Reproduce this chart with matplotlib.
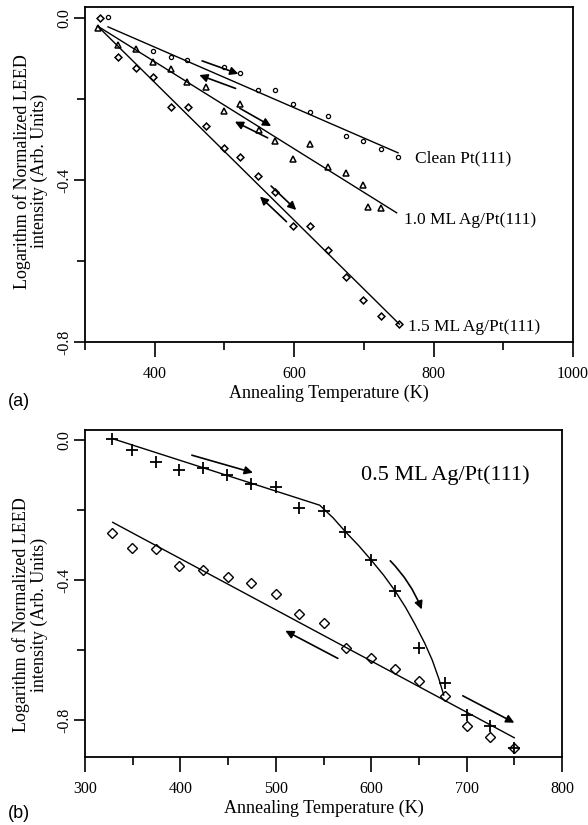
import numpy as np
import matplotlib.pyplot as plt

plt.rcParams['font.family'] = ['Liberation Serif', 'DejaVu Serif']

# ---- panel (a) data ----
clean_T = [333, 398, 423, 447, 499, 523, 548, 573, 599, 623, 649, 674, 699, 724, 749]
clean_v = [0.003, -0.081, -0.096, -0.105, -0.121, -0.135, -0.178, -0.178, -0.213,
           -0.231, -0.242, -0.291, -0.305, -0.323, -0.344]

ml10_T = [318, 348, 373, 398, 423, 447, 473, 499, 523, 549, 573, 599, 623, 649, 674,
          699, 706, 724]
ml10_v = [-0.025, -0.068, -0.077, -0.108, -0.126, -0.157, -0.171, -0.230, -0.212,
          -0.277, -0.305, -0.349, -0.312, -0.367, -0.383, -0.412, -0.467, -0.470]

ml15_T = [322, 348, 373, 398, 423, 448, 473, 499, 523, 548, 573, 599, 623, 649, 674,
          699, 725, 751]
ml15_v = [0.0, -0.097, -0.123, -0.147, -0.219, -0.219, -0.267, -0.320, -0.344, -0.390,
          -0.429, -0.513, -0.513, -0.573, -0.639, -0.696, -0.736, -0.756]

fit_clean_T, fit_clean_v = [333, 749], [-0.022, -0.333]
fit_10_T, fit_10_v = [318, 747], [-0.020, -0.481]
fit_15_T, fit_15_v = [318, 751], [-0.020, -0.756]

# arrows: (tail T, tail v, head T, head v)
arrows_a = [
    (468, -0.106, 520, -0.138),
    (516, -0.174, 464, -0.141),
    (522, -0.223, 567, -0.267),
    (562, -0.296, 515, -0.256),
    (567, -0.415, 603, -0.474),
    (589, -0.503, 551, -0.441),
]

labels_a = ["Clean Pt(111)", "1.0 ML Ag/Pt(111)", "1.5 ML Ag/Pt(111)"]
labels_a_T = [774, 757, 764]
labels_a_v = [-0.346, -0.499, -0.762]

# ---- panel (b) data ----
plus_T = [328, 349, 374, 399, 424, 449, 474, 500, 524, 550, 573, 600, 625, 650, 677,
          700, 725, 750]
plus_v = [0.002, -0.027, -0.062, -0.086, -0.081, -0.100, -0.124, -0.133, -0.195,
          -0.202, -0.264, -0.343, -0.431, -0.593, -0.695, -0.786, -0.816, -0.879]

dia_T = [328, 349, 374, 399, 424, 450, 474, 500, 524, 550, 574, 600, 625, 650, 677,
         700, 725, 750]
dia_v = [-0.265, -0.307, -0.310, -0.359, -0.371, -0.390, -0.408, -0.441, -0.496,
         -0.524, -0.593, -0.624, -0.655, -0.688, -0.731, -0.816, -0.848, -0.879]

fit_plus_T = [328, 546, 560, 573, 587, 600, 613, 625, 636, 646, 656, 664, 671, 676]
fit_plus_v = [0.005, -0.186, -0.222, -0.262, -0.302, -0.343, -0.386, -0.431,
              -0.478, -0.527, -0.580, -0.629, -0.683, -0.729]
fit_dia_T, fit_dia_v = [329, 750], [-0.235, -0.851]

arrows_b = [
    (412, -0.043, 476, -0.093, 0.0),
    (620, -0.345, 653, -0.484, -0.1),
    (565, -0.624, 510, -0.545, 0.0),
    (696, -0.731, 750, -0.808, 0.0),
]


def style_axes(ax):
    for s in ax.spines.values():
        s.set_linewidth(1.3)
    ax.tick_params(which='major', direction='out', width=1.2, length=11, labelsize=11.5,
                   top=False, right=False)
    ax.tick_params(which='minor', direction='out', width=1.2, length=5.5,
                   top=False, right=False)
    ax.tick_params(axis='x', which='major', pad=6.5)
    ax.tick_params(axis='y', which='major', length=8, pad=1)
    ax.set_xlabel("Annealing Temperature (K)", fontsize=13, labelpad=2)
    ax.set_ylabel("Logarithm of Normalized LEED\nintensity (Arb. Units)",
                  fontsize=13, linespacing=1.0)


def arrow(ax, t0, v0, t1, v1, rad=0.0):
    ax.annotate('', xy=(t1, v1), xytext=(t0, v0),
                arrowprops=dict(arrowstyle='-|>', color='k', lw=1.2,
                                mutation_scale=12, shrinkA=0, shrinkB=0,
                                connectionstyle=f'arc3,rad={rad}'))


fig = plt.figure(figsize=(5.88, 8.25), dpi=100)

# ---------- (a) ----------
ax1 = fig.add_axes([85 / 588, 1 - 342 / 825, 488 / 588, 335 / 825])
ax1.plot(fit_clean_T, fit_clean_v, color='k', lw=1.0)
ax1.plot(fit_10_T, fit_10_v, color='k', lw=1.0)
ax1.plot(fit_15_T, fit_15_v, color='k', lw=1.0)
ax1.plot(clean_T, clean_v, 'o', ms=3, mfc='none', mec='k', mew=0.9)
ax1.plot(ml10_T, ml10_v, '^', ms=4.5, mfc='none', mec='k', mew=1.1)
ax1.plot(ml15_T, ml15_v, 'D', ms=3.5, mfc='none', mec='k', mew=1.1)
for t0, v0, t1, v1 in arrows_a:
    arrow(ax1, t0, v0, t1, v1)
for lab, t, v in zip(labels_a, labels_a_T, labels_a_v):
    ax1.text(t, v, lab, fontsize=12.5, ha='left', va='center')

ax1.set_xlim(300, 1000)
ax1.set_ylim(-0.8, 0.027)
ax1.set_xticks([400, 600, 800, 1000])
ax1.set_xticks([300, 500, 700, 900], minor=True)
ax1.set_yticks([0.0, -0.4, -0.8])
ax1.set_yticklabels(['0.0', '-0.4', '-0.8'], rotation=90, va='center')
ax1.set_yticks([-0.2, -0.6], minor=True)
style_axes(ax1)
ax1.yaxis.set_label_coords(-0.076, 0.51)

# ---------- (b) ----------
ax2 = fig.add_axes([85 / 588, 1 - 757 / 825, 477 / 588, 327 / 825])
ax2.plot(fit_plus_T, fit_plus_v, color='k', lw=1.0)
ax2.plot(fit_dia_T, fit_dia_v, color='k', lw=1.0)
ax2.plot(plus_T, plus_v, '+', ms=8, mec='k', mew=1.3)
ax2.plot(dia_T, dia_v, 'D', ms=5.5, mfc='none', mec='k', mew=1.0)
for t0, v0, t1, v1, rad in arrows_b:
    arrow(ax2, t0, v0, t1, v1, rad)
ax2.text(589, -0.1, "0.5 ML Ag/Pt(111)", fontsize=16, ha='left', va='center')

ax2.set_xlim(300, 800)
ax2.set_ylim(-0.906, 0.029)
ax2.set_xticks([300, 400, 500, 600, 700, 800])
ax2.set_xticks([350, 450, 550, 650, 750], minor=True)
ax2.set_yticks([0.0, -0.4, -0.8])
ax2.set_yticklabels(['0.0', '-0.4', '-0.8'], rotation=90, va='center')
ax2.set_yticks([-0.2, -0.6], minor=True)
style_axes(ax2)
ax2.yaxis.set_label_coords(-0.078, 0.435)

fig.text(8 / 588, 1 - 401 / 825, "(a)", fontsize=13, family='Liberation Sans',
         ha='left', va='center')
fig.text(8 / 588, 1 - 813 / 825, "(b)", fontsize=13, family='Liberation Sans',
         ha='left', va='center')

fig.savefig('out.png', dpi=100)
